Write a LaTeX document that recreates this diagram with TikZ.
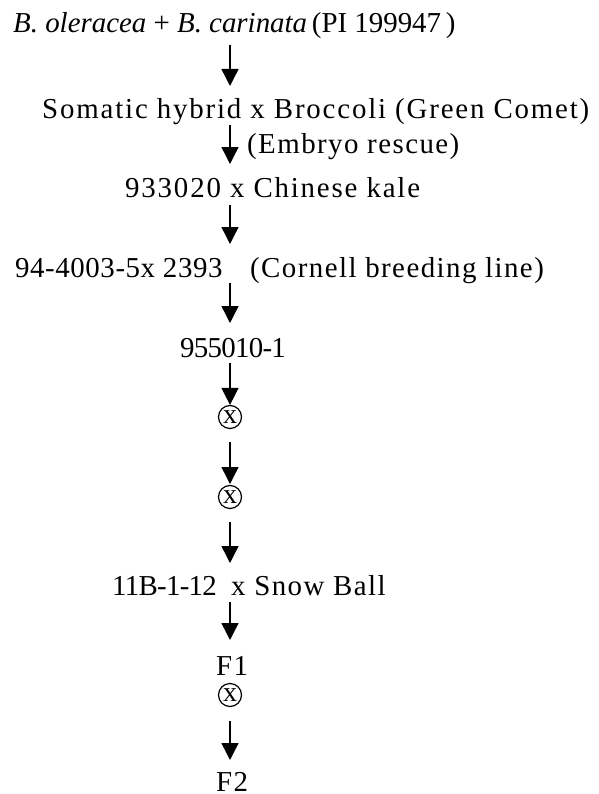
\documentclass[tikz,border=0pt]{standalone}
\usepackage{fontspec}
\setmainfont{Liberation Serif}
\newfontfamily\spaced[LetterSpace=5]{Liberation Serif}
\newfontfamily\wide[LetterSpace=6.3]{Liberation Serif}
\newfontfamily\snug[LetterSpace=2]{Liberation Serif}
\newfontfamily\tight[LetterSpace=-2.5]{Liberation Serif}
\usetikzlibrary{arrows.meta}
\begin{document}
\begin{tikzpicture}[x=1bp,y=-1bp,
  title/.style={anchor=base west, inner sep=0pt, font=\fontsize{29}{34}\selectfont},
  lbl/.style={anchor=base west, inner sep=0pt, font=\spaced\fontsize{29}{34}\selectfont},
  gen/.style={anchor=base, inner sep=0pt, font=\spaced\fontsize{29}{34}\selectfont},
  flow/.style={line width=1.4bp, -{Triangle[length=17bp,width=17bp]}},
  selfing/.style={circle, draw, line width=1.2bp, minimum size=23bp, inner sep=0pt,
    font=\fontsize{28}{30}\selectfont}]
\useasboundingbox (0,0) rectangle (599,794);

% pedigree steps
\node[title] (src) at (13,33) {\textit{B. oleracea} + \textit{B. carinata}\,(PI 199947\,)};
\node[lbl, font=\wide\fontsize{29}{34}\selectfont] (hyb) at (42,118)
  {Somatic hybrid x Broccoli (Green Comet)};
\node[lbl] (resc) at (247,153) {(Embryo rescue)};
\node[lbl, font=\wide\fontsize{29}{34}\selectfont] (kale) at (125,197) {933020 x Chinese kale};
\node[lbl, font=\snug\fontsize{29}{34}\selectfont] (corn) at (15,277) {94-4003-5x 2393};
\node[lbl] (cornnote) at (250,277) {(Cornell breeding line)};
\node[gen, font=\tight\fontsize{29}{34}\selectfont] (line) at (233,357) {955010-1};
\node[selfing] (s1) at (230,417) {x};
\node[selfing] (s2) at (230,497) {x};
\node[lbl, font=\tight\fontsize{29}{34}\selectfont] (snowpar) at (112,595) {11B-1-12};
\node[lbl] (snow) at (231,595) {x Snow Ball};
\node[gen] (f1) at (232,675) {F1};
\node[selfing] (s3) at (230,695) {x};
\node[gen] (f2) at (232,791) {F2};

% arrow ends on the main column
\coordinate (a1t) at (230,45);  \coordinate (a1h) at (230,86);
\coordinate (a2t) at (230,125); \coordinate (a2h) at (230,164);
\coordinate (a3t) at (230,205); \coordinate (a3h) at (230,244);
\coordinate (a4t) at (230,283); \coordinate (a4h) at (230,323);
\coordinate (a5t) at (230,363);
\coordinate (a6t) at (230,442); \coordinate (a6h) at (230,484);
\coordinate (a7t) at (230,522); \coordinate (a7h) at (230,563);
\coordinate (a8t) at (230,602); \coordinate (a8h) at (230,640);
\coordinate (a9t) at (230,721); \coordinate (a9h) at (230,760);

\draw[flow] (a1t) -- (a1h);
\draw[flow] (a2t) -- (a2h);
\draw[flow] (a3t) -- (a3h);
\draw[flow] (a4t) -- (a4h);
\draw[flow] (a5t) -- (s1.north);
\draw[flow] (a6t) -- (a6h);
\draw[flow] (a7t) -- (a7h);
\draw[flow] (a8t) -- (a8h);
\draw[flow] (a9t) -- (a9h);
\end{tikzpicture}
\end{document}
